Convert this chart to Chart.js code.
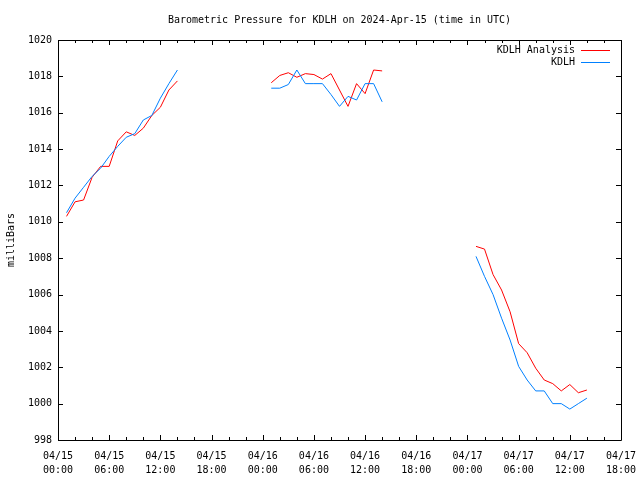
<!DOCTYPE html>
<html lang="en">
<head>
    <meta charset="UTF-8">
    <title>Barometric Pressure for KDLH</title>
    <script src="https://cdn.jsdelivr.net/npm/chart.js"></script>
    <style>
        body {
            margin: 0;
            background: #fff;
        }
        canvas {
            display: block;
        }
    </style>
</head>
<body>
    <canvas id="pressureChart" width="640" height="480"></canvas>
    <script>
        // hours since 2024-04-15 00:00 UTC at which each segment starts (hourly data)
        const segmentStarts = [1, 25, 49];
        const gapHours = [20, 44];

        // KDLH Analysis (mb)
        const analysis1 = [1010.3, 1011.1, 1011.2, 1012.45, 1013.05, 1013.05, 1014.45, 1014.95, 1014.75, 1015.15, 1015.85, 1016.3, 1017.25, 1017.75];
        const analysis2 = [1017.65, 1018.05, 1018.2, 1017.95, 1018.15, 1018.1, 1017.85, 1018.15, 1017.25, 1016.35, 1017.6, 1017.05, 1018.35, 1018.3];
        const analysis3 = [1008.65, 1008.5, 1007.1, 1006.25, 1005.05, 1003.3, 1002.8, 1001.95, 1001.3, 1001.1, 1000.7, 1001.05, 1000.6, 1000.75];

        // KDLH observed (mb)
        const observed1 = [1010.5, 1011.3, 1011.9, 1012.5, 1012.95, 1013.6, 1014.15, 1014.65, 1014.85, 1015.6, 1015.85, 1016.8, 1017.6, 1018.35];
        const observed2 = [1017.35, 1017.35, 1017.55, 1018.35, 1017.6, 1017.6, 1017.6, 1017.0, 1016.35, 1016.9, 1016.7, 1017.6, 1017.6, 1016.6];
        const observed3 = [1008.1, 1007.0, 1006.0, 1004.7, 1003.5, 1002.05, 1001.3, 1000.7, 1000.7, 1000.0, 1000.0, 999.7, 1000.0, 1000.3];

        const xTickDates = ['04/15', '04/15', '04/15', '04/15', '04/16', '04/16', '04/16', '04/16', '04/17', '04/17', '04/17', '04/17'];
        const xTickTimes = ['00:00', '06:00', '12:00', '18:00', '00:00', '06:00', '12:00', '18:00', '00:00', '06:00', '12:00', '18:00'];

        const seriesLabels = ['KDLH Analysis', 'KDLH'];
        const seriesColors = ['#ff0000', '#0080ff'];

        const FONT = { family: 'DejaVu Sans Mono', size: 10 };

        // join the segments, with a null point between them so the line breaks
        function buildSeries(segments) {
            const pts = [];
            segments.forEach((seg, s) => {
                seg.forEach((v, i) => pts.push({ x: segmentStarts[s] + i, y: v }));
                if (s < gapHours.length) pts.push({ x: gapHours[s], y: null });
            });
            return pts;
        }

        // gnuplot style box with inward ticks, plus the legend in the top right
        const framePlugin = {
            id: 'frame',
            afterDraw(chart) {
                const { ctx, chartArea } = chart;
                const { left, right, top, bottom } = chartArea;
                const xs = chart.scales.x, ys = chart.scales.y;
                ctx.save();
                ctx.strokeStyle = '#000';
                ctx.lineWidth = 1;
                ctx.beginPath();
                ctx.rect(Math.round(left) + 0.5, Math.round(top) + 0.5, Math.round(right - left), Math.round(bottom - top));
                for (let h = xs.min; h <= xs.max; h += 2) {
                    const px = Math.round(xs.getPixelForValue(h)) + 0.5;
                    const len = h % 6 === 0 ? 5 : 3;
                    ctx.moveTo(px, bottom); ctx.lineTo(px, bottom - len);
                    ctx.moveTo(px, top); ctx.lineTo(px, top + len);
                }
                ys.ticks.forEach(t => {
                    const py = Math.round(ys.getPixelForValue(t.value)) + 0.5;
                    ctx.moveTo(left, py); ctx.lineTo(left + 5, py);
                    ctx.moveTo(right, py); ctx.lineTo(right - 5, py);
                });
                ctx.stroke();

                // legend
                ctx.font = FONT.size + 'px ' + FONT.family;
                ctx.textAlign = 'right';
                ctx.textBaseline = 'middle';
                ctx.fillStyle = '#000';
                seriesLabels.forEach((lbl, i) => {
                    const y = 50 + i * 12;
                    ctx.fillText(lbl, 575, y);
                    ctx.strokeStyle = seriesColors[i];
                    ctx.beginPath();
                    ctx.moveTo(581, y + 0.5);
                    ctx.lineTo(610, y + 0.5);
                    ctx.stroke();
                });
                ctx.restore();
            }
        };

        const ctx = document.getElementById('pressureChart').getContext('2d');
        new Chart(ctx, {
            type: 'line',
            data: {
                datasets: [
                    {
                        label: seriesLabels[0],
                        data: buildSeries([analysis1, analysis2, analysis3]),
                        borderColor: seriesColors[0],
                        borderWidth: 1,
                        pointRadius: 0,
                        tension: 0,
                        spanGaps: false,
                        order: 2
                    },
                    {
                        label: seriesLabels[1],
                        data: buildSeries([observed1, observed2, observed3]),
                        borderColor: seriesColors[1],
                        borderWidth: 1,
                        pointRadius: 0,
                        tension: 0,
                        spanGaps: false,
                        order: 1
                    }
                ]
            },
            options: {
                responsive: false,
                animation: false,
                layout: { padding: { left: 0, right: 19, top: 0, bottom: 0 } },
                plugins: {
                    legend: { display: false },
                    tooltip: { enabled: false },
                    title: {
                        display: true,
                        text: 'Barometric Pressure for KDLH on 2024-Apr-15 (time in UTC)',
                        color: '#000',
                        fullSize: false,
                        font: { family: FONT.family, size: 10, weight: 'normal' },
                        padding: { top: 14, bottom: 14 }
                    }
                },
                scales: {
                    x: {
                        type: 'linear',
                        min: 0,
                        max: 66,
                        grid: { display: false, drawTicks: false },
                        border: { display: false },
                        ticks: {
                            stepSize: 6,
                            autoSkip: false,
                            maxRotation: 0,
                            padding: 9,
                            color: '#000',
                            font: { family: FONT.family, size: 10, lineHeight: 1.4 },
                            callback: (v, i) => [xTickDates[i], xTickTimes[i]]
                        },
                        afterFit: s => {
                            s.height = 40;
                            s.paddingLeft = 0;
                            s.paddingRight = 0;
                        }
                    },
                    y: {
                        min: 998,
                        max: 1020,
                        grid: { display: false, drawTicks: false },
                        border: { display: false },
                        ticks: {
                            stepSize: 2,
                            padding: 6,
                            color: '#000',
                            font: FONT,
                            callback: v => String(v)
                        },
                        title: {
                            display: true,
                            text: 'milliBars',
                            color: '#000',
                            font: FONT,
                            padding: { top: 5, bottom: 0 }
                        },
                        afterFit: s => { s.width = 58; }
                    }
                }
            },
            plugins: [framePlugin]
        });
    </script>
</body>
</html>
